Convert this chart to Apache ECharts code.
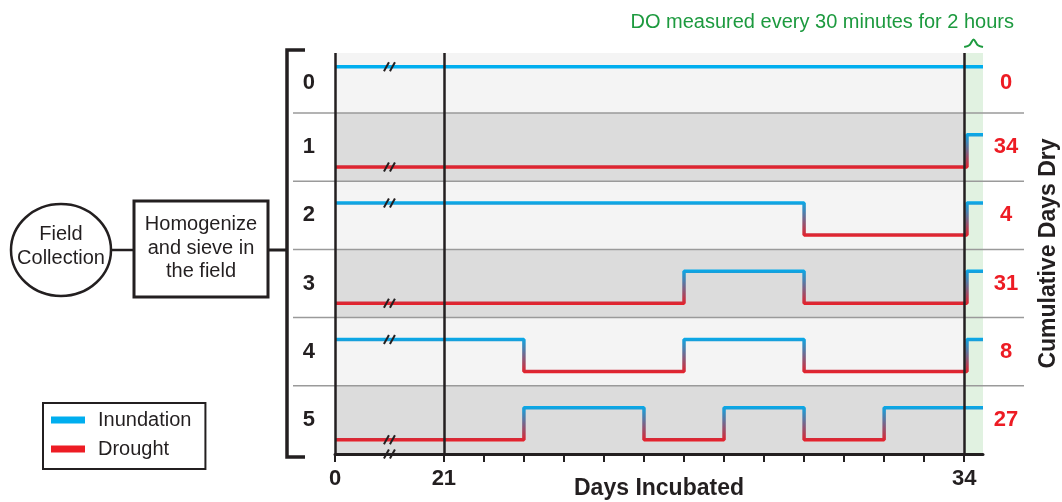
<!DOCTYPE html>
<html>
<head>
<meta charset="utf-8">
<script src="https://cdn.jsdelivr.net/npm/echarts@6/dist/echarts.min.js"></script>
<style>
html,body{margin:0;padding:0;background:#fff;}
#chart{width:1062px;height:502px;}
</style>
</head>
<body>
<div id="chart"></div>
<script>
// ---------------- data ----------------
const rowLabels = ['0', '1', '2', '3', '4', '5'];
const daysDry = [0, 34, 4, 31, 8, 27];
// [day, state]  I = inundation, D = drought
const schedule0 = [[0, 'I']];
const schedule1 = [[0, 'D'], [34.07, 'I']];
const schedule2 = [[0, 'I'], [30, 'D'], [34.07, 'I']];
const schedule3 = [[0, 'D'], [27, 'I'], [30, 'D'], [34.07, 'I']];
const schedule4 = [[0, 'I'], [23, 'D'], [27, 'I'], [30, 'D'], [34.07, 'I']];
const schedule5 = [[0, 'D'], [23, 'I'], [26, 'D'], [28, 'I'], [30, 'D'], [32, 'I']];
const xTickDays = [0, 21, 22, 23, 24, 25, 26, 27, 28, 29, 30, 31, 32, 33, 34];
const xLabelDays = [0, 21, 34];
const END_DAY = 34.47;      // right edge of the 2-hour measuring window
const RAIL_DAYS = [0, 21, 34];
const legendNames = ['Inundation', 'Drought'];

// ---------------- scale helpers (broken axis) ----------------
const BREAK_AT = 21;
const COMPRESSED = 2.72;
function X(d) { return d <= BREAK_AT ? d * COMPRESSED / BREAK_AT : COMPRESSED + (d - BREAK_AT); }
function invX(v) { return v <= COMPRESSED ? v * BREAK_AT / COMPRESSED : v - COMPRESSED + BREAK_AT; }
const HIGH_OFF = 0.32, LOW_OFF = 0.79;
function lvl(s) { return s === 'I' ? HIGH_OFF : LOW_OFF; }

const BLUE = '#00aeef', RED = '#ed1c24', GREEN = '#1d9a3f', INK = '#231f20';
const FONT = '"Liberation Sans", Arial, Helvetica, sans-serif';
const Y_MIN = 0.12, Y_MAX = 6;

const schedules = [schedule0, schedule1, schedule2, schedule3, schedule4, schedule5];

const rowSeries = schedules.map((sched, i) => {
  const pts = sched.map(([d, s]) => [X(d), i + lvl(s)]);
  const last = sched[sched.length - 1];
  pts.push([X(END_DAY), i + lvl(last[1])]);
  const states = new Set(sched.map(p => p[1]));
  const color = states.size > 1 ? {
    type: 'linear', x: 0, y: 0, x2: 0, y2: 1,
    colorStops: [{ offset: 0, color: BLUE }, { offset: 1, color: RED }]
  } : (states.has('I') ? BLUE : RED);
  return {
    type: 'line', name: 'row' + i, step: 'end', symbol: 'none', silent: true,
    data: pts, z: 2, lineStyle: { width: 3.5, color: color }
  };
});

const bandData = rowLabels.map((_, i) => ([
  { yAxis: Math.max(i, Y_MIN), xAxis: X(0), itemStyle: { color: i % 2 === 0 ? '#f4f4f4' : '#dcdcdc' } },
  { yAxis: i + 1, xAxis: X(34) }
]));
bandData.push([
  { yAxis: Y_MIN, xAxis: X(34), itemStyle: { color: '#e1f2e1' } },
  { yAxis: Y_MAX, xAxis: X(END_DAY) }
]);

const chart = echarts.init(document.getElementById('chart'), null, { renderer: 'canvas' });

const option = {
  animation: false,
  backgroundColor: '#ffffff',
  textStyle: { fontFamily: FONT },
  title: {
    text: 'DO measured every 30 minutes for 2 hours',
    right: 43, top: 7,
    textStyle: { color: GREEN, fontSize: 20, fontWeight: 'normal', fontFamily: FONT }
  },
  legend: {
    data: legendNames.map(n => ({ name: n, icon: 'rect' })),
    orient: 'vertical', left: 43, top: 403,
    itemWidth: 34, itemHeight: 7, itemGap: 9,
    padding: [7, 14, 10, 8],
    borderColor: INK, borderWidth: 2,
    selectedMode: false,
    textStyle: { fontSize: 20, color: INK, fontFamily: FONT, padding: [0, 0, 0, 8] }
  },
  grid: { left: 335, right: 79, top: 53, bottom: 48, containLabel: false, outerBoundsMode: 'none' },
  xAxis: {
    type: 'value', min: 0, max: X(END_DAY), z: 5,
    name: 'Days Incubated', nameLocation: 'middle', nameGap: 23, nameMoveOverlap: false,
    nameTextStyle: { fontSize: 23, fontWeight: 'bold', color: INK, fontFamily: FONT },
    axisLine: { lineStyle: { color: INK, width: 3 } },
    axisTick: { show: true, length: 8, lineStyle: { color: INK, width: 2 }, customValues: xTickDays.map(X) },
    axisLabel: {
      customValues: xLabelDays.map(X), margin: 14,
      fontSize: 22, fontWeight: 'bold', color: INK, fontFamily: FONT,
      formatter: v => String(Math.round(invX(v)))
    },
    splitLine: { show: false }
  },
  yAxis: [{
    type: 'value', min: Y_MIN, max: Y_MAX, inverse: true,
    axisLine: { show: false }, axisTick: { show: false }, splitLine: { show: false },
    axisLabel: {
      customValues: rowLabels.map((_, i) => (Math.max(i, Y_MIN) + i + 1) / 2),
      margin: 20, fontSize: 22, fontWeight: 'bold', color: INK, fontFamily: FONT,
      formatter: v => rowLabels[Math.floor(v)]
    }
  }, {
    type: 'value', min: Y_MIN, max: Y_MAX, inverse: true, position: 'right',
    name: 'Cumulative Days Dry', nameLocation: 'middle', nameGap: 54, nameMoveOverlap: false,
    nameTextStyle: { fontSize: 23, fontWeight: 'bold', color: INK, fontFamily: FONT },
    axisLine: { show: false }, axisTick: { show: false }, splitLine: { show: false },
    axisLabel: {
      customValues: rowLabels.map((_, i) => (Math.max(i, Y_MIN) + i + 1) / 2),
      margin: 23, align: 'center', fontSize: 22, fontWeight: 'bold', color: RED, fontFamily: FONT,
      formatter: v => String(daysDry[Math.floor(v)])
    }
  }],
  series: [
    {
      type: 'line', name: 'bg', data: [], silent: true, z: 1,
      markArea: { silent: true, data: bandData }
    },
    ...rowSeries,
    {
      type: 'line', name: 'rails', data: [], silent: true, z: 3,
      markLine: {
        silent: true, symbol: ['none', 'none'], label: { show: false },
        lineStyle: { color: INK, width: 2.5, type: 'solid' },
        data: RAIL_DAYS.concat([END_DAY]).map(d => ({ xAxis: X(d) }))
      }
    },
    { type: 'line', name: legendNames[0], data: [], itemStyle: { color: BLUE }, lineStyle: { color: BLUE } },
    { type: 'line', name: legendNames[1], data: [], itemStyle: { color: RED }, lineStyle: { color: RED } }
  ]
};
chart.setOption(option);

// ---------------- decorations placed with the chart's own scales ----------------
const px = (x, y) => chart.convertToPixel({ gridIndex: 0 }, [x, y]);
const g = [];
// row separators (extend beyond the plot like the reference)
for (let i = 1; i < rowLabels.length; i++) {
  const y = px(0, i)[1];
  g.push({ type: 'line', z: 2.5, silent: true, shape: { x1: 293, y1: y, x2: 1024, y2: y },
    style: { stroke: '#9a9a9a', lineWidth: 1.5 } });
}
// axis-break marks
const breakX = px(X(BREAK_AT / 2), 0)[0];
const breakYs = schedules.map((s, i) => px(0, i + lvl(s[0][1]))[1]);
breakYs.push(px(0, Y_MAX)[1]);
breakYs.forEach(y => {
  [-3, 3].forEach(off => {
    g.push({ type: 'line', z: 10, silent: true,
      shape: { x1: breakX + off - 2.5, y1: y + 4.5, x2: breakX + off + 2.5, y2: y - 4.5 },
      style: { stroke: INK, lineWidth: 2 } });
  });
});
// green brace over the measuring window
const bx1 = px(X(34), 0)[0], bx2 = px(X(END_DAY), 0)[0], bm = (bx1 + bx2) / 2;
g.push({ type: 'polyline', z: 10, silent: true, shape: { points: [[bx1, 47], [bm - 4, 45], [bm, 39.5], [bm + 4, 45], [bx2, 47]], smooth: 0.3 },
  style: { stroke: GREEN, lineWidth: 2, fill: null } });
// bracket
g.push({ type: 'polyline', silent: true, shape: { points: [[305, 50], [287, 50], [287, 457], [305, 457]] },
  style: { stroke: INK, lineWidth: 3.5, fill: null } });
// flow chart
g.push({ type: 'line', silent: true, shape: { x1: 110, y1: 250, x2: 134, y2: 250 }, style: { stroke: INK, lineWidth: 2.5 } });
g.push({ type: 'line', silent: true, shape: { x1: 268, y1: 250, x2: 287, y2: 250 }, style: { stroke: INK, lineWidth: 3 } });
g.push({ type: 'ellipse', silent: true, shape: { cx: 61, cy: 250, rx: 50, ry: 46 }, style: { stroke: INK, lineWidth: 2.5, fill: '#fff' } });
g.push({ type: 'text', silent: true, x: 61, y: 246, style: { text: 'Field\nCollection', font: '20px ' + FONT, fill: INK, align: 'center', verticalAlign: 'middle', lineHeight: 24 } });
g.push({ type: 'rect', silent: true, shape: { x: 134, y: 201, width: 134, height: 96 }, style: { stroke: INK, lineWidth: 3, fill: '#fff' } });
g.push({ type: 'text', silent: true, x: 201, y: 248, style: { text: 'Homogenize\nand sieve in\nthe field', font: '20px ' + FONT, fill: INK, align: 'center', verticalAlign: 'middle', lineHeight: 23.5 } });

chart.setOption({ graphic: g });
</script>
</body>
</html>
